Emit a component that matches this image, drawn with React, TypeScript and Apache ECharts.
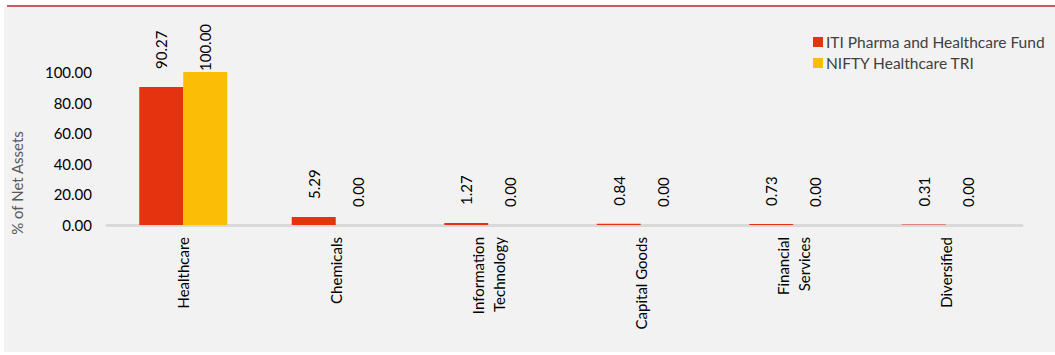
import React, { useEffect, useRef } from "react";
import * as echarts from "echarts";

const categories = [
  "Healthcare",
  "Chemicals",
  "Information\nTechnology",
  "Capital Goods",
  "Financial\nServices",
  "Diversified",
];
const fundName = "ITI Pharma and Healthcare Fund";
const benchName = "NIFTY Healthcare TRI";
const fundValues = [90.27, 5.29, 1.27, 0.84, 0.73, 0.31];
const benchValues = [100.0, 0.0, 0.0, 0.0, 0.0, 0.0];
const yTicks = { min: 0, max: 100, interval: 20 };
const yTitle = "% of Net Assets";

const FONT = "Lato, 'Open Sans', sans-serif";

export default function App() {
  const ref = useRef<HTMLDivElement>(null);
  useEffect(() => {
    document.body.style.margin = "0";
    const chart = echarts.init(ref.current!, null, { renderer: "svg" });
    const label = {
      show: true,
      position: "top",
      rotate: 90,
      align: "left",
      verticalAlign: "middle",
      distance: 18,
      fontSize: 15,
      fontFamily: FONT,
      color: "#000",
      formatter: (p: any) => Number(p.value).toFixed(2),
    };
    chart.setOption({
      animation: false,
      backgroundColor: "#ffffff",
      textStyle: { fontFamily: FONT },
      graphic: [
        {
          type: "rect",
          z: -10,
          silent: true,
          shape: { x: 4, y: 7, width: 1051, height: 345 },
          style: { fill: "#f2f2f2" },
        },
        {
          type: "line",
          z: -5,
          silent: true,
          shape: { x1: 7, y1: 6, x2: 1055, y2: 6 },
          style: { stroke: "#b8232b", lineWidth: 1.5 },
        },
        {
          type: "text",
          x: 17,
          y: 183,
          rotation: Math.PI / 2,
          style: {
            text: yTitle,
            fill: "#595959",
            font: `15px ${FONT}`,
            align: "center",
            verticalAlign: "middle",
          },
        },
      ],
      legend: {
        orient: "vertical",
        left: 808,
        top: 29,
        icon: "rect",
        itemWidth: 10,
        itemHeight: 10,
        itemGap: 5,
        textStyle: { fontSize: 15.5, color: "#404040", fontFamily: FONT, padding: [0, 0, 0, -2] },
        data: [fundName, benchName],
      },
      grid: { left: 107, right: 33, top: 72, bottom: 130 },
      xAxis: {
        type: "category",
        data: categories,
        axisLine: { lineStyle: { color: "#d9d9d9", width: 3 } },
        axisTick: { show: false },
        axisLabel: {
          rotate: 90,
          interval: 0,
          margin: 12,
          fontSize: 15,
          color: "#000",
          fontFamily: FONT,
          lineHeight: 21,
        },
      },
      yAxis: {
        type: "value",
        min: yTicks.min,
        max: yTicks.max,
        interval: yTicks.interval,
        axisLine: { show: false },
        axisTick: { show: false },
        splitLine: { show: false },
        axisLabel: {
          margin: 15,
          fontSize: 15,
          color: "#000",
          fontFamily: FONT,
          formatter: (v: number) => v.toFixed(2),
        },
      },
      series: [
        {
          name: fundName,
          type: "bar",
          data: fundValues,
          barWidth: 44,
          barGap: "0%",
          itemStyle: { color: "#e5330f" },
          label,
        },
        {
          name: benchName,
          type: "bar",
          data: benchValues.map((v) =>
            v >= yTicks.max ? { value: v, label: { distance: 1 } } : v
          ),
          barWidth: 44,
          barGap: "0%",
          itemStyle: { color: "#fbbd05" },
          label,
        },
      ],
    });
    return () => chart.dispose();
  }, []);
  return <div ref={ref} style={{ width: 1055, height: 355 }} />;
}
